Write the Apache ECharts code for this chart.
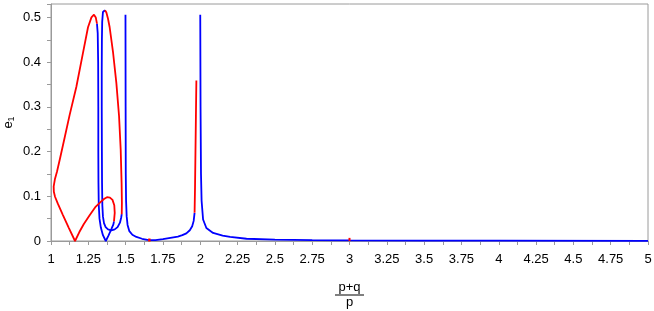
<!DOCTYPE html>
<html>
<head>
<meta charset="utf-8">
<script src="https://cdn.jsdelivr.net/npm/echarts@6/dist/echarts.min.js"></script>
<style>html,body{margin:0;padding:0;background:#fff}#c{width:654px;height:311px}</style>
</head>
<body>
<div id="c"></div>
<script>
// x = (p+q)/p, y = e1
const redLoopLeft = [[1.422,0.044],[1.427,0.063],[1.424,0.080],[1.412,0.092],[1.395,0.097],[1.375,0.098],[1.355,0.094],[1.335,0.088],[1.30,0.077],[1.26,0.058],[1.22,0.038],[1.19,0.020],[1.161,0.0],[1.12,0.029],[1.08,0.058],[1.045,0.084],[1.027,0.099],[1.019,0.110],[1.018,0.122],[1.026,0.138],[1.040,0.155],[1.060,0.184],[1.092,0.232],[1.125,0.282],[1.170,0.345],[1.214,0.420],[1.248,0.478],[1.271,0.500],[1.288,0.506],[1.300,0.500],[1.308,0.486]];
const blueLineA = [[1.308,0.486],[1.313,0.465],[1.316,0.40],[1.317,0.30],[1.317,0.20],[1.318,0.13],[1.320,0.08],[1.325,0.050],[1.334,0.030],[1.348,0.013],[1.367,0.0],[1.385,0.012],[1.405,0.027],[1.418,0.037],[1.422,0.044]];
const blueLoopB = [[1.362,0.516],[1.355,0.519],[1.348,0.512],[1.343,0.490],[1.341,0.45],[1.340,0.38],[1.340,0.30],[1.341,0.20],[1.342,0.13],[1.344,0.080],[1.348,0.055],[1.355,0.040],[1.366,0.031],[1.382,0.026],[1.405,0.024],[1.427,0.026],[1.446,0.031],[1.462,0.041],[1.470,0.052],[1.474,0.060]];
const redLoopRight = [[1.362,0.516],[1.371,0.511],[1.382,0.497],[1.393,0.478],[1.416,0.421],[1.438,0.353],[1.456,0.279],[1.467,0.204],[1.473,0.13],[1.475,0.085],[1.474,0.060]];
const blueSpike15 = [[1.499,0.506],[1.500,0.30],[1.501,0.15],[1.503,0.09],[1.507,0.055],[1.513,0.036],[1.525,0.022],[1.545,0.014],[1.572,0.009],[1.61,0.005],[1.655,0.002]];
const blueLow = [[1.655,0.002],[1.70,0.002],[1.75,0.004],[1.80,0.007],[1.85,0.010],[1.88,0.013],[1.907,0.017],[1.930,0.024],[1.946,0.033],[1.956,0.045],[1.962,0.063]];
const redSpike2 = [[1.962,0.063],[1.965,0.12],[1.968,0.20],[1.971,0.28],[1.974,0.359]];
const blueSpike2 = [[2.000,0.506],[2.002,0.30],[2.005,0.15],[2.009,0.090],[2.019,0.048],[2.041,0.029],[2.086,0.018],[2.15,0.012],[2.20,0.009],[2.31,0.005],[2.50,0.003],[2.75,0.002],[3.0,0.0015],[3.5,0.001],[4.0,0.0008],[5.0,0.0005]];
const redMark1 = [[1.651,0.002],[1.667,0.002]];
const redMark2 = [[3.0,0.0],[3.0,0.007]];
const xMin = 1, xMax = 5, xStep = 0.125;
const yMin = 0, yMax = 0.53, yStep = 0.05;

const RED = '#ff0000', BLUE = '#0000ff';
function ln(data, color, w) {
  return {type:'line', data:data, showSymbol:false, symbol:'none', smooth:false,
          lineStyle:{color:color, width:w||1.8}, itemStyle:{color:color}, animation:false, silent:true};
}
const chart = echarts.init(document.getElementById('c'), null, {renderer:'canvas'});
function fmt(v){ return String(parseFloat(v.toFixed(3))); }
chart.setOption({
  animation:false,
  grid:{left:51, right:6, top:4, bottom:70, show:true, borderColor:'#9a9a9a', borderWidth:1, containLabel:false, outerBoundsMode:'none'},
  xAxis:{type:'value', min:xMin, max:xMax, interval:xStep,
    name:'{n|p+q}\n{l| }\n{d|p}', nameLocation:'middle', nameGap:40, nameMoveOverlap:false,
    nameTextStyle:{rich:{
      n:{fontSize:13, fontFamily:'Liberation Sans', color:'#000', lineHeight:13},
      l:{fontSize:1, lineHeight:2, height:1, width:29, backgroundColor:'#000'},
      d:{fontSize:13, fontFamily:'Liberation Sans', color:'#000', lineHeight:13}}},
    axisLine:{show:true, lineStyle:{color:'#9a9a9a', width:1}},
    axisTick:{show:true, length:4, lineStyle:{color:'#9a9a9a'}},
    splitLine:{show:false},
    axisLabel:{margin:12, fontSize:13, fontFamily:'Liberation Sans', color:'#000',
      formatter:function(v){ const k=v/0.25; return Math.abs(k-Math.round(k))<1e-6 ? fmt(v) : ''; }}
  },
  yAxis:{type:'value', min:yMin, max:yMax, interval:yStep,
    name:'{e|e}{s|1}', nameLocation:'middle', nameGap:35, nameRotate:90, nameMoveOverlap:false,
    nameTextStyle:{rich:{
      e:{fontSize:13, fontFamily:'Liberation Sans', color:'#000'},
      s:{fontSize:9, fontFamily:'Liberation Sans', color:'#000', padding:[6,0,0,0]}}},
    axisLine:{show:true, lineStyle:{color:'#9a9a9a', width:1}},
    axisTick:{show:true, length:4, lineStyle:{color:'#9a9a9a'}},
    splitLine:{show:false},
    axisLabel:{margin:10, fontSize:13, fontFamily:'Liberation Sans', color:'#000',
      formatter:function(v){ const k=v/0.1; return Math.abs(k-Math.round(k))<1e-6 ? (v===0?'0':v.toFixed(1)) : ''; }}
  },
  series:[
    ln(blueLow, BLUE), ln(blueSpike2, BLUE), ln(blueSpike15, BLUE),
    ln(blueLineA, BLUE), ln(blueLoopB, BLUE),
    ln(redLoopLeft, RED), ln(redLoopRight, RED), ln(redSpike2, RED),
    ln(redMark1, RED, 3), ln(redMark2, RED, 2)
  ]
});
</script>
</body>
</html>
